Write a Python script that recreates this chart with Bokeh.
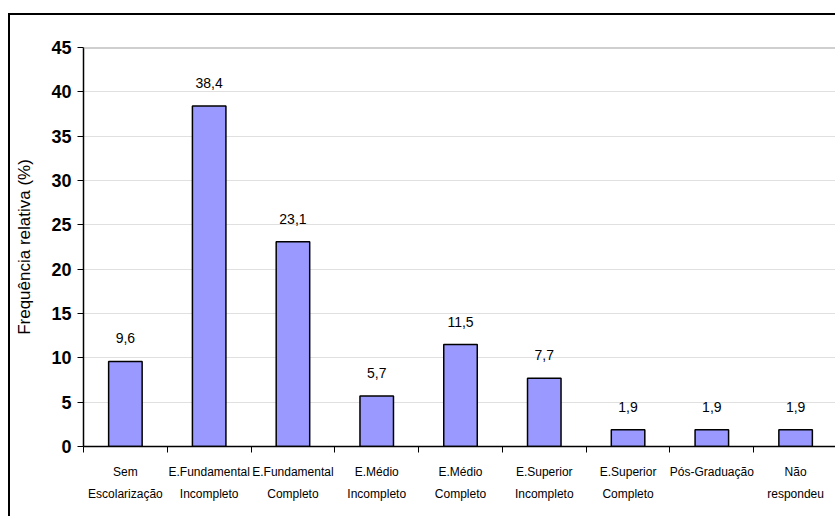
from bokeh.plotting import figure
from bokeh.models import FixedTicker, Span, ColumnDataSource, LabelSet, Range1d
from bokeh.core.properties import value
from bokeh.embed import file_html
from bokeh.resources import INLINE

categories = ["Sem\nEscolarização", "E.Fundamental\nIncompleto", "E.Fundamental\nCompleto",
              "E.Médio\nIncompleto", "E.Médio\nCompleto", "E.Superior\nIncompleto",
              "E.Superior\nCompleto", "Pós-Graduação", "Não\nrespondeu"]
values = [9.6, 38.4, 23.1, 5.7, 11.5, 7.7, 1.9, 1.9, 1.9]
value_labels = ["9,6", "38,4", "23,1", "5,7", "11,5", "7,7", "1,9", "1,9", "1,9"]
y_ticks = [0, 5, 10, 15, 20, 25, 30, 35, 40, 45]

xs = [i + 0.5 for i in range(len(categories))]
src = ColumnDataSource(dict(x=xs, top=values, lab=value_labels))

p = figure(width=827, height=503, margin=(13, 0, 0, 8),
           x_range=Range1d(0, len(categories)), y_range=Range1d(0, 45),
           output_backend="svg", toolbar_location=None,
           min_border_left=73, min_border_top=32, min_border_right=0, min_border_bottom=72,
           styles={"border-left": "2px solid black", "border-top": "2px solid black"})
p.outline_line_color = None
p.background_fill_color = "white"

p.vbar(x="x", top="top", width=0.4, bottom=0, source=src,
       fill_color="#9999FF", line_color="black", line_width=1.5)

p.add_layout(LabelSet(x="x", y="top", text="lab", source=src, text_align="center",
                      text_baseline="bottom", y_offset=18, text_font_size=value("14px"),
                      text_font=value("Liberation Sans"), text_color="black"))

# x axis
xt = FixedTicker(ticks=xs, minor_ticks=list(range(len(categories) + 1)))
p.xaxis.ticker = xt
p.xaxis.major_label_overrides = {x: c for x, c in zip(xs, categories)}
p.xaxis.major_tick_out = 0
p.xaxis.major_tick_in = 0
p.xaxis.minor_tick_out = 6
p.xaxis.minor_tick_in = 0
p.xaxis.minor_tick_line_color = "black"
p.xaxis.axis_line_color = "black"
p.xaxis.axis_line_width = 1.5
p.xaxis.major_label_text_font = "Liberation Sans"
p.xaxis.major_label_text_font_size = "12px"
p.xaxis.major_label_text_line_height = 1.6
p.xaxis.major_label_text_color = "black"
p.xaxis.major_label_standoff = 12
p.xgrid.grid_line_color = None

# y axis
p.yaxis.ticker = FixedTicker(ticks=y_ticks)
p.yaxis.major_tick_out = 6
p.yaxis.major_tick_in = 0
p.yaxis.major_tick_line_color = "black"
p.yaxis.minor_tick_line_color = None
p.yaxis.axis_line_color = "black"
p.yaxis.axis_line_width = 1.5
p.yaxis.major_label_text_font = "Liberation Sans"
p.yaxis.major_label_text_font_style = "bold"
p.yaxis.major_label_text_font_size = "18px"
p.yaxis.major_label_text_color = "black"
p.yaxis.major_label_standoff = 6
p.yaxis.axis_label = "Frequência relativa (%)"
p.yaxis.axis_label_text_font = "Liberation Sans"
p.yaxis.axis_label_text_font_style = "normal"
p.yaxis.axis_label_text_font_size = "17px"
p.yaxis.axis_label_text_color = "black"
p.yaxis.axis_label_standoff = 14
p.ygrid.grid_line_color = "#e0e0e0"
p.ygrid.grid_line_width = 1

p.add_layout(Span(location=45, dimension="width", line_color="#a0a0a0", line_width=2))

open("out.html", "w").write(file_html(p, INLINE))
